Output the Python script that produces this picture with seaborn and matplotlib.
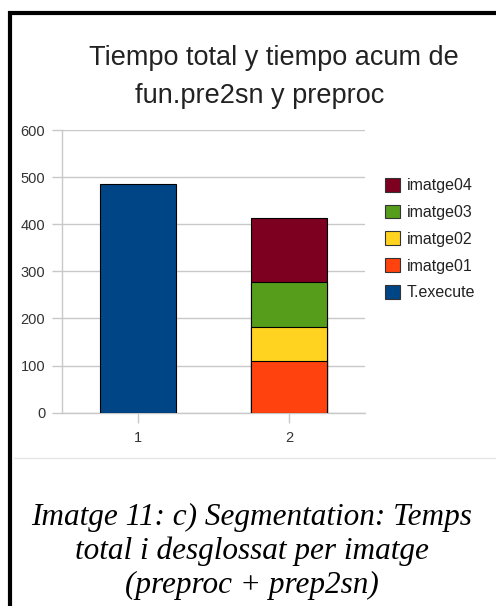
import matplotlib
matplotlib.use("Agg")
import matplotlib.pyplot as plt
from matplotlib.patches import Patch
from matplotlib.lines import Line2D
import seaborn as sns
import pandas as pd

# ---- data ----
categories = ["1", "2"]
t_execute = [485, 0]
imatge01 = [0, 110]
imatge02 = [0, 72]
imatge03 = [0, 96]
imatge04 = [0, 135]
series_names = ["T.execute", "imatge01", "imatge02", "imatge03", "imatge04"]
series_values = [t_execute, imatge01, imatge02, imatge03, imatge04]
series_colors = ["#004586", "#ff420e", "#ffd320", "#579d1c", "#7e0021"]
y_ticks = [0, 100, 200, 300, 400, 500, 600]
title_lines = ["Tiempo total y tiempo acum de", "fun.pre2sn y preproc"]
caption_lines = ["Imatge 11: c) Segmentation: Temps",
                 "total i desglossat per imatge",
                 "(preproc + prep2sn)"]

sns.set_theme(style="white")
plt.rcParams["font.family"] = ["Liberation Sans", "DejaVu Sans"]

W, H = 496, 606
fig = plt.figure(figsize=(W / 100, H / 100), dpi=100)
fig.patch.set_facecolor("white")

ax = fig.add_axes([62 / W, (H - 412.7) / H, 303 / W, 282.7 / H])

# cumulative stacks, drawn tallest first so lower segments overlay
rows = []
for name, vals in zip(series_names, series_values):
    for c, v in zip(categories, vals):
        rows.append({"cat": c, "series": name, "value": v})
df = pd.DataFrame(rows)
df = df[df["value"] > 0].copy()
df["cum"] = df.groupby("cat")["value"].cumsum()

for name, col in reversed(list(zip(series_names, series_colors))):
    sub = df[df["series"] == name]
    sns.barplot(data=sub, x="cat", y="cum", order=categories, color=col,
                saturation=1, width=0.5, edgecolor="black", linewidth=0.8,
                errorbar=None, ax=ax, zorder=3)

ax.set_xlim(-0.5, 1.5)
ax.set_ylim(0, 600)
ax.set_yticks(y_ticks)
ax.set_yticklabels([str(t) for t in y_ticks])
ax.set_xlabel("")
ax.set_ylabel("")
ax.yaxis.grid(True, color="#c8c8c8", linewidth=1.0, zorder=0)
ax.set_axisbelow(True)
for s in ["top", "right"]:
    ax.spines[s].set_visible(False)
for s in ["left", "bottom"]:
    ax.spines[s].set_color("#c8c8c8")
    ax.spines[s].set_linewidth(1.0)
ax.tick_params(axis="y", length=7, width=1, color="#c8c8c8", labelsize=10.5,
               labelcolor="#333333", pad=5, left=True)
ax.tick_params(axis="x", length=7, width=1, color="#c8c8c8", labelsize=10.5,
               labelcolor="#333333", pad=6, bottom=True)

handles = [Patch(facecolor=c, edgecolor="#333333", linewidth=0.8, label=n)
           for n, c in zip(series_names, series_colors)][::-1]
leg = fig.legend(handles=handles, loc="upper left",
                 bbox_to_anchor=(385 / W, 1 - 178 / H), frameon=False,
                 fontsize=11.5, handlelength=0.95, handleheight=0.95,
                 handletextpad=0.4, labelspacing=0.71, borderpad=0,
                 borderaxespad=0)
for t in leg.get_texts():
    t.set_color("#222222")

# title
fig.text(274 / W, 1 - 65 / H, title_lines[0], ha="center", va="baseline",
         fontsize=19.5, color="#222222")
fig.text(260 / W, 1 - 103 / H, title_lines[1], ha="center", va="baseline",
         fontsize=19.5, color="#222222")

# caption
cap_base = [525, 559, 593]
for line, yb in zip(caption_lines, cap_base):
    fig.text(252 / W, 1 - yb / H, line, ha="center", va="baseline",
             fontsize=22.5, style="italic", family="Liberation Serif",
             color="black")

# frame lines
fig.add_artist(Line2D([10 / W, 10 / W], [0, 1 - 11 / H], transform=fig.transFigure,
                      color="black", linewidth=3, solid_capstyle="butt"))
fig.add_artist(Line2D([8 / W, 1], [1 - 13 / H, 1 - 13 / H], transform=fig.transFigure,
                      color="black", linewidth=3, solid_capstyle="butt"))
fig.add_artist(Line2D([14 / W, 1], [1 - 458 / H, 1 - 458 / H], transform=fig.transFigure,
                      color="#e6e6e6", linewidth=1))

fig.savefig("out.png", dpi=100)
